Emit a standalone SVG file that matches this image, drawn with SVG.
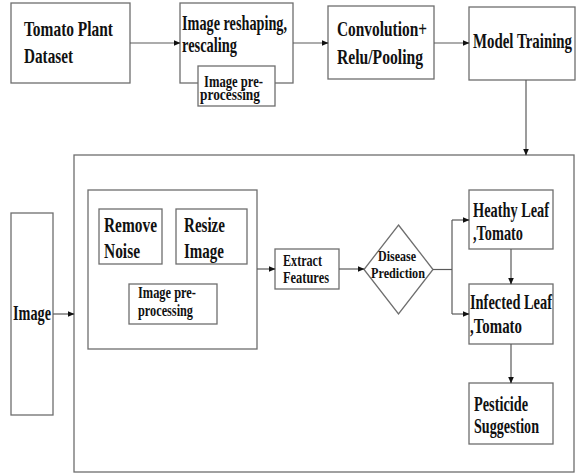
<svg xmlns="http://www.w3.org/2000/svg" width="577" height="474" viewBox="0 0 577 474">
<style>
.box{fill:#fff;stroke:#6e6e6e;stroke-width:1.3}
.c{fill:none;stroke:#5a5a5a;stroke-width:1.2}
text{font-family:"Liberation Serif","Times New Roman","DejaVu Serif",serif;font-weight:bold;fill:#111}
.b{font-size:22px}
.s{font-size:17.5px}
.d{font-size:15.5px}
</style>
<defs>
<marker id="ah" markerWidth="7" markerHeight="6" refX="6.5" refY="3" orient="auto" markerUnits="userSpaceOnUse">
<path d="M0,0 L7,3 L0,6 Z" fill="#111"/>
</marker>
</defs>
<rect width="577" height="474" fill="#fff"/>
<g id="dataset">
<rect class="box" x="11" y="3" width="119" height="80"/>
<text class="b" x="24" y="36" textLength="89" lengthAdjust="spacingAndGlyphs">Tomato Plant</text>
<text class="b" x="24" y="63" textLength="49" lengthAdjust="spacingAndGlyphs">Dataset</text>
</g>
<g id="reshape">
<rect class="box" x="180" y="3" width="113" height="80"/>
<text class="b" x="182" y="30" textLength="105" lengthAdjust="spacingAndGlyphs">Image reshaping,</text>
<text class="b" x="182" y="52" textLength="55" lengthAdjust="spacingAndGlyphs">rescaling</text>
</g>
<g id="preproc-top">
<rect class="box" x="198" y="66" width="77" height="40"/>
<text class="s" x="204" y="87" textLength="59" lengthAdjust="spacingAndGlyphs">Image pre-</text>
<text class="s" x="200" y="100" textLength="60" lengthAdjust="spacingAndGlyphs">processing</text>
</g>
<g id="conv">
<rect class="box" x="328" y="6" width="106" height="73"/>
<text class="b" x="337" y="36" textLength="90" lengthAdjust="spacingAndGlyphs">Convolution+</text>
<text class="b" x="337" y="64" textLength="86" lengthAdjust="spacingAndGlyphs">Relu/Pooling</text>
</g>
<g id="training">
<rect class="box" x="469" y="7" width="106" height="73"/>
<text class="b" x="473" y="48" textLength="99" lengthAdjust="spacingAndGlyphs">Model Training</text>
</g>
<g id="outer">
<rect class="box" x="74" y="155" width="500" height="317"/>
</g>
<g id="image">
<rect class="box" x="11" y="213" width="42" height="202"/>
<text class="b" x="13" y="320" textLength="38" lengthAdjust="spacingAndGlyphs">Image</text>
</g>
<g id="preproc-group">
<rect class="box" x="88" y="190" width="169" height="159"/>
</g>
<g id="remove-noise">
<rect class="box" x="99" y="209" width="63" height="55"/>
<text class="b" x="104" y="232" textLength="53" lengthAdjust="spacingAndGlyphs">Remove</text>
<text class="b" x="104" y="258" textLength="36" lengthAdjust="spacingAndGlyphs">Noise</text>
</g>
<g id="resize">
<rect class="box" x="176" y="209" width="71" height="55"/>
<text class="b" x="184" y="232" textLength="41" lengthAdjust="spacingAndGlyphs">Resize</text>
<text class="b" x="184" y="258" textLength="40" lengthAdjust="spacingAndGlyphs">Image</text>
</g>
<g id="preproc-bottom">
<rect class="box" x="129" y="284" width="88" height="40"/>
<text class="s" x="138" y="298" textLength="58" lengthAdjust="spacingAndGlyphs">Image pre-</text>
<text class="s" x="138" y="316" textLength="55" lengthAdjust="spacingAndGlyphs">processing</text>
</g>
<g id="extract">
<rect class="box" x="275" y="249" width="64" height="40"/>
<text class="s" x="283" y="266" textLength="39" lengthAdjust="spacingAndGlyphs">Extract</text>
<text class="s" x="283" y="283" textLength="46" lengthAdjust="spacingAndGlyphs">Features</text>
</g>
<g id="prediction">
<path class="box" d="M398.5,225 L433,269.5 L398.5,314 L364,269.5 Z"/>
<text class="d" x="378" y="261" textLength="38" lengthAdjust="spacingAndGlyphs">Disease</text>
<text class="d" x="371" y="278" textLength="54" lengthAdjust="spacingAndGlyphs">Prediction</text>
</g>
<g id="healthy">
<rect class="box" x="469" y="190" width="84" height="59"/>
<text class="b" x="473" y="217" textLength="76" lengthAdjust="spacingAndGlyphs">Heathy Leaf</text>
<text class="b" x="473" y="240" textLength="50" lengthAdjust="spacingAndGlyphs">,Tomato</text>
</g>
<g id="infected">
<rect class="box" x="469" y="284" width="84" height="60"/>
<text class="b" x="470" y="309" textLength="82" lengthAdjust="spacingAndGlyphs">Infected Leaf</text>
<text class="b" x="470" y="333" textLength="52" lengthAdjust="spacingAndGlyphs">,Tomato</text>
</g>
<g id="pesticide">
<rect class="box" x="469" y="383" width="84" height="61"/>
<text class="b" x="474" y="411" textLength="54" lengthAdjust="spacingAndGlyphs">Pesticide</text>
<text class="b" x="474" y="433" textLength="65" lengthAdjust="spacingAndGlyphs">Suggestion</text>
</g>
<g id="connectors">
<path class="c" d="M130,43 H180" marker-end="url(#ah)"/>
<path class="c" d="M293,43 H328" marker-end="url(#ah)"/>
<path class="c" d="M434,43 H469" marker-end="url(#ah)"/>
<path class="c" d="M526,80 V155" marker-end="url(#ah)"/>
<path class="c" d="M53,314 H74" marker-end="url(#ah)"/>
<path class="c" d="M257,269 H275" marker-end="url(#ah)"/>
<path class="c" d="M339,269 H364" marker-end="url(#ah)"/>
<path class="c" d="M433,269.5 H452"/>
<path class="c" d="M452,220 V314"/>
<path class="c" d="M452,220 H469" marker-end="url(#ah)"/>
<path class="c" d="M452,314 H469" marker-end="url(#ah)"/>
<path class="c" d="M511,249 V284" marker-end="url(#ah)"/>
<path class="c" d="M511,344 V383" marker-end="url(#ah)"/>
</g>
</svg>
